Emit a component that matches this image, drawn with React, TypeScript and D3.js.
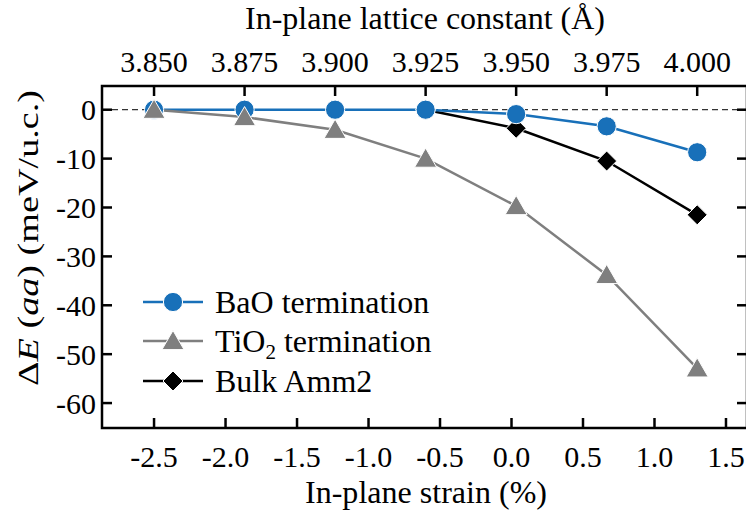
import React from "react";
import * as d3 from "d3";

const latticeConstants = [3.85, 3.875, 3.9, 3.925, 3.95, 3.975, 4.0];
const baoValues = [0, 0, 0, 0, -0.9, -3.4, -8.7];
const tio2Values = [0, -1.5, -4.1, -10.0, -19.7, -33.8, -52.9];
const bulkValues: (number | null)[] = [null, null, null, 0, -3.8, -10.5, -21.5];
const strainTicks = [-2.5, -2.0, -1.5, -1.0, -0.5, 0.0, 0.5, 1.0, 1.5];
const latticeTicks = [3.85, 3.875, 3.9, 3.925, 3.95, 3.975, 4.0];
const energyTicks = [0, -10, -20, -30, -40, -50, -60];

const W = 746, H = 522;
const L = 102, R = 747, T = 86, B = 428;
const a0 = 3.85 / 0.975;
const strainOf = (a: number) => (a / a0 - 1) * 100;

const FONT = "'Liberation Serif', 'Times New Roman', serif";
const BLUE = "#1870b9";
const GRAY = "#7f7f7f";

export default function App() {
  const x = d3.scaleLinear().domain([-2.864, 1.647]).range([L, R]);
  const xTop = d3.scaleLinear().domain([a0 * (1 - 0.02864), a0 * (1 + 0.01647)]).range([L, R]);
  const y = d3.scaleLinear().domain([-65.1, 4.85]).range([B, T]);

  const pts = (vals: (number | null)[]) =>
    latticeConstants
      .map((a, i) => ({ s: strainOf(a), v: vals[i] }))
      .filter((d) => d.v !== null) as { s: number; v: number }[];

  const line = d3
    .line<{ s: number; v: number }>()
    .x((d) => x(d.s))
    .y((d) => y(d.v));

  const bao = pts(baoValues);
  const tio2 = pts(tio2Values);
  const bulk = pts(bulkValues);

  const circle = d3.symbol(d3.symbolCircle, 290)();
  const tri = (cx: number, cy: number, r: number) =>
    `M${cx},${cy - r}L${cx + r * 1.05},${cy + r * 0.82}L${cx - r * 1.05},${cy + r * 0.82}Z`;
  const diamond = (cx: number, cy: number, r: number) =>
    `M${cx},${cy - r}L${cx + r},${cy}L${cx},${cy + r}L${cx - r},${cy}Z`;

  const tickLen = 10;
  const fs = 30;
  const fsT = 32;

  const legendRows = [
    { yy: 302, kind: "bao" },
    { yy: 341, kind: "tio2" },
    { yy: 381, kind: "bulk" },
  ];

  return (
    <svg width={W} height={H} style={{ position: "absolute", left: 0, top: 0, background: "#fff" }} fontFamily={FONT}>
      <rect width={W} height={H} fill="#fff" />
      {/* zero reference line */}
      <line x1={L} x2={R} y1={y(0)} y2={y(0)} stroke="#000" strokeWidth={1} strokeDasharray="6,4" />

      {/* series lines */}
      <path d={line(bulk) || ""} fill="none" stroke="#000" strokeWidth={2.5} />
      <path d={line(bao) || ""} fill="none" stroke={BLUE} strokeWidth={2.5} />
      <path d={line(tio2) || ""} fill="none" stroke={GRAY} strokeWidth={2.5} />

      {/* markers */}
      {bulk.map((d, i) => (
        <path key={"bk" + i} d={diamond(x(d.s), y(d.v), 10)} fill="#000" stroke="#fff" strokeWidth={1} />
      ))}
      {bao.map((d, i) => (
        <path key={"bo" + i} d={circle || ""} transform={`translate(${x(d.s)},${y(d.v)})`} fill={BLUE} stroke="#fff" strokeWidth={1} />
      ))}
      {tio2.map((d, i) => (
        <path key={"ti" + i} d={tri(x(d.s), y(d.v), 10.5)} fill={GRAY} stroke="#fff" strokeWidth={1} />
      ))}

      {/* frame */}
      <rect x={L} y={T} width={R - L} height={B - T} fill="none" stroke="#000" strokeWidth={2.5} />

      {/* bottom ticks */}
      {strainTicks.map((t) => (
        <g key={"xb" + t}>
          <line x1={x(t)} x2={x(t)} y1={B} y2={B - tickLen} stroke="#000" strokeWidth={2.5} />
          <text x={x(t)} y={467} textAnchor="middle" fontSize={fs}>{d3.format(".1f")(t).replace("−", "-")}</text>
        </g>
      ))}
      {/* top ticks */}
      {latticeTicks.map((t) => (
        <g key={"xt" + t}>
          <line x1={xTop(t)} x2={xTop(t)} y1={T} y2={T + tickLen} stroke="#000" strokeWidth={2.5} />
          <text x={xTop(t)} y={72} textAnchor="middle" fontSize={fs}>{d3.format(".3f")(t)}</text>
        </g>
      ))}
      {/* left / right ticks */}
      {energyTicks.map((t) => (
        <g key={"y" + t}>
          <line x1={L} x2={L + tickLen} y1={y(t)} y2={y(t)} stroke="#000" strokeWidth={2.5} />
          <line x1={R} x2={R - tickLen} y1={y(t)} y2={y(t)} stroke="#000" strokeWidth={2.5} />
          <text x={96} y={y(t)} dy="0.35em" textAnchor="end" fontSize={fs}>{String(t).replace("−", "-")}</text>
        </g>
      ))}

      {/* axis titles */}
      <text x={425} y={29} textAnchor="middle" fontSize={fsT} textLength={360} lengthAdjust="spacing">In-plane lattice constant (Å)</text>
      <text x={426} y={503} textAnchor="middle" fontSize={fsT} textLength={242} lengthAdjust="spacing">In-plane strain (%)</text>
      <text transform={`translate(38,238) rotate(-90)`} textAnchor="middle" fontSize={30} textLength={296} lengthAdjust="spacingAndGlyphs">
        Δ<tspan fontStyle="italic">E</tspan> (<tspan fontStyle="italic">aa</tspan>) (meV/u.c.)
      </text>

      {/* legend */}
      {legendRows.map((r) => {
        const color = r.kind === "bao" ? BLUE : r.kind === "tio2" ? GRAY : "#000";
        return (
          <g key={r.kind}>
            <line x1={143} x2={203} y1={r.yy} y2={r.yy} stroke={color} strokeWidth={2.5} />
            {r.kind === "bao" && <path d={circle || ""} transform={`translate(173,${r.yy})`} fill={BLUE} stroke="#fff" strokeWidth={1} />}
            {r.kind === "tio2" && <path d={tri(173, r.yy, 10.5)} fill={GRAY} stroke="#fff" strokeWidth={1} />}
            {r.kind === "bulk" && <path d={diamond(173, r.yy, 10)} fill="#000" stroke="#fff" strokeWidth={1} />}
            <text x={215} y={r.yy} dy="0.35em" fontSize={fsT}>
              {r.kind === "bao" && "BaO termination"}
              {r.kind === "tio2" && (
                <>
                  TiO<tspan fontSize={21} dy="7">2</tspan>
                  <tspan dy="-7"> termination</tspan>
                </>
              )}
              {r.kind === "bulk" && "Bulk Amm2"}
            </text>
          </g>
        );
      })}
    </svg>
  );
}
